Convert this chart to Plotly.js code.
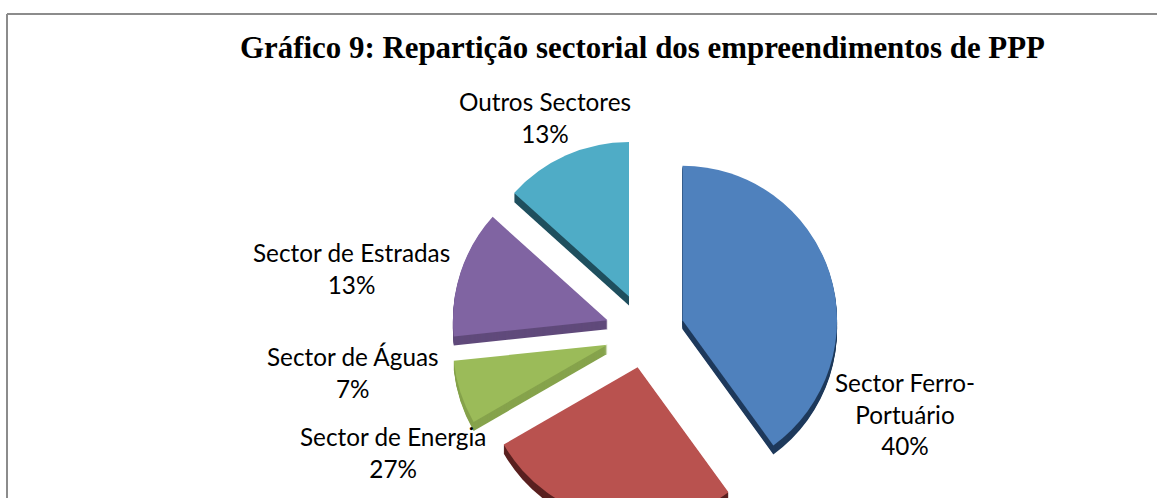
<!DOCTYPE html>
<html><head><meta charset="utf-8">
<script src="https://cdn.plot.ly/plotly-3.0.1.min.js"></script>
<style>html,body{margin:0;padding:0;width:1157px;height:498px;overflow:hidden;background:#fff}</style>
</head><body><div id="chart"></div>
<script>
const categories = ["Sector Ferro-Portuário","Sector de Energia","Sector de Águas","Sector de Estradas","Outros Sectores"];
const values = [40,26.67,6.67,13.33,13.33];
const topColors = ["#4f81bd","#b9524f","#9bbb59","#8064a2","#4facc6"];
const sideColors = ["#1f3a5c","#5a2120","#86a34c","#604a7b","#1f4f5e"];
const pulls = [0.255,0.23,0.255,0.255,0.255];
const labelLines = [["Sector Ferro-","Portuário","40%"],["Sector de Energia","27%"],["Sector de Águas","7%"],["Sector de Estradas","13%"],["Outros Sectores","13%"]];
const labelX = [905,393,353,352,545];
const labelY = [414,452,372,268,117];

const W=1157, H=600, cx=645, cy=332.5, half=194, depth=9;
function pieTrace(dy, colors){
  return {type:"pie",labels:categories,values:values,sort:false,direction:"clockwise",rotation:0,
    pull:pulls,textinfo:"none",hoverinfo:"label+percent",showlegend:false,
    marker:{colors:colors,line:{width:0}},
    domain:{x:[(cx-half)/W,(cx+half)/W],y:[1-(cy+dy+half)/H,1-(cy+dy-half)/H]}};
}
const traces=[];
for(let d=depth;d>0;d--) traces.push(pieTrace(d,sideColors));
traces.push(pieTrace(0,topColors));

const annotations=categories.map((c,i)=>({
  xref:"paper",yref:"paper",x:labelX[i]/W,y:1-labelY[i]/H,xanchor:"center",yanchor:"middle",
  text:labelLines[i].join("<br>"),showarrow:false,align:"center",
  font:{family:"Lato, 'Open Sans', sans-serif",size:24.3,color:"#000"}
}));
annotations.push({xref:"paper",yref:"paper",x:642.5/W,y:1-48/H,xanchor:"center",yanchor:"middle",showarrow:false,
  text:"<b>Gráfico 9: Repartição sectorial dos empreendimentos de PPP</b>",
  font:{family:"'Liberation Serif', serif",size:30.9,color:"#000"}});

const shapes=[
 {type:"line",xref:"paper",yref:"paper",x0:7/W,x1:1,y0:1-14/H,y1:1-14/H,line:{color:"#8c8c8c",width:2}},
 {type:"line",xref:"paper",yref:"paper",x0:7/W,x1:7/W,y0:1-14/H,y1:0,line:{color:"#8c8c8c",width:2}}
];
Plotly.newPlot("chart",traces,{width:W,height:H,margin:{l:0,r:0,t:0,b:0},paper_bgcolor:"#fff",
  showlegend:false,annotations:annotations,shapes:shapes},{displayModeBar:false,staticPlot:true});
</script></body></html>
